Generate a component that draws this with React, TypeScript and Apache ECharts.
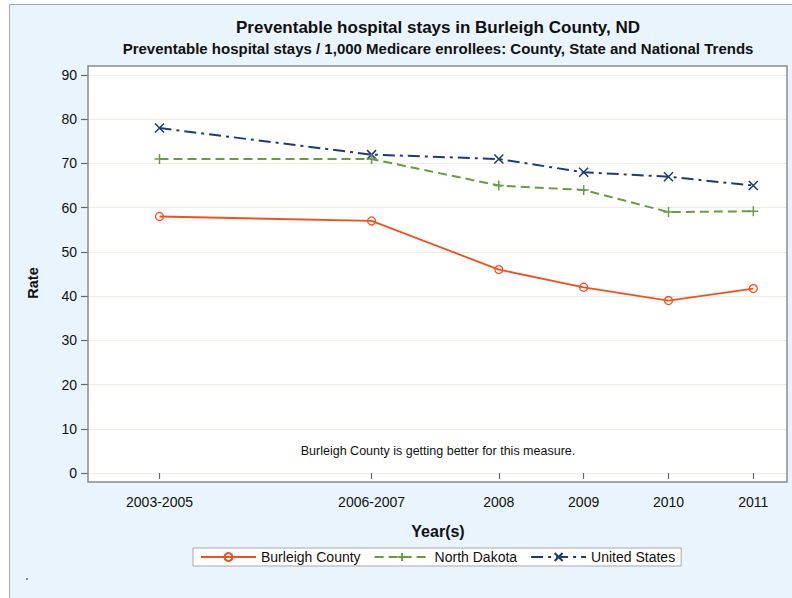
import React, { useEffect, useRef } from "react";
import * as echarts from "echarts";

const years = [2004, 2006.5, 2008, 2009, 2010, 2011];
const yearLabels = ["2003-2005", "2006-2007", "2008", "2009", "2010", "2011"];
const burleigh = [58, 57, 46, 42, 39, 41.7];
const northDakota = [71, 71, 65, 64, 59, 59.2];
const unitedStates = [78, 72, 71, 68, 67, 65];
const seriesNames = ["Burleigh County", "North Dakota", "United States"];
const titleText = "Preventable hospital stays in Burleigh County, ND";
const subtitleText =
  "Preventable hospital stays / 1,000 Medicare enrollees: County, State and National Trends";
const noteText = "Burleigh County is getting better for this measure.";

const FONT = "'Liberation Sans', Arial, Helvetica, sans-serif";
const C_BUR = "#F4501E";
const C_ND = "#6B9A45";
const C_US = "#1C3C72";

const PLUS = "path://M5,0 L5,10 M0,5 L10,5";
const CROSS = "path://M0,0 L10,10 M10,0 L0,10";

function pairs(vals: number[]) {
  return years.map((x, i) => [x, vals[i]]);
}

export default function App() {
  const ref = useRef<HTMLDivElement>(null);
  useEffect(() => {
    if (!ref.current) return;
    const chart = echarts.init(ref.current, null, { renderer: "svg" });
    const left = 88, right = 787, top = 66, bottom = 482;
    chart.setOption({
      animation: false,
      backgroundColor: "#ffffff",
      textStyle: { fontFamily: FONT },
      graphic: [
        {
          type: "rect",
          z: -20,
          silent: true,
          shape: { x: 9.5, y: 4.5, width: 800, height: 600 },
          style: { fill: "#EAF4FC", stroke: "#A8A8A8", lineWidth: 1 },
        },
        {
          type: "rect",
          z: -10,
          silent: true,
          shape: { x: left, y: top, width: right - left, height: bottom - top },
          style: { fill: "#ffffff", stroke: "none" },
        },
        {
          type: "rect",
          z: 50,
          silent: true,
          shape: { x: left, y: top, width: right - left, height: bottom - top },
          style: { fill: "none", stroke: "#8C8C8C", lineWidth: 1.5 },
        },
        {
          type: "rect",
          silent: true,
          shape: { x: 26, y: 578, width: 2, height: 2 },
          style: { fill: "#888" },
        },
        {
          type: "text",
          x: 438,
          y: 27,
          style: {
            text: titleText,
            font: `bold 17px ${FONT}`,
            fill: "#111",
            textAlign: "center",
            textVerticalAlign: "middle",
          },
        },
        {
          type: "text",
          x: 438,
          y: 48,
          style: {
            text: subtitleText,
            font: `bold 15px ${FONT}`,
            fill: "#111",
            textAlign: "center",
            textVerticalAlign: "middle",
          },
        },
        {
          type: "text",
          x: 438,
          y: 451,
          style: {
            text: noteText,
            font: `12.5px ${FONT}`,
            fill: "#111",
            textAlign: "center",
            textVerticalAlign: "middle",
          },
        },
        {
          type: "text",
          x: 438,
          y: 531,
          style: {
            text: "Year(s)",
            font: `bold 16px ${FONT}`,
            fill: "#111",
            textAlign: "center",
            textVerticalAlign: "middle",
          },
        },
        {
          type: "text",
          x: 33,
          y: 283,
          rotation: Math.PI / 2,
          style: {
            text: "Rate",
            font: `bold 14.5px ${FONT}`,
            fill: "#111",
            textAlign: "center",
            textVerticalAlign: "middle",
          },
        },
      ],
      legend: {
        left: 193,
        top: 548,
        orient: "horizontal",
        backgroundColor: "#ffffff",
        borderColor: "#A8A8A8",
        borderWidth: 1,
        borderRadius: 0,
        padding: [2, 6, 2, 7],
        itemWidth: 55,
        itemHeight: 10,
        itemGap: 13,
        textStyle: { fontSize: 14, color: "#111", fontFamily: FONT },
        data: seriesNames,
      },
      grid: { left, right: 792 - right, top: 75, bottom: 598 - 473, containLabel: false },
      xAxis: {
        type: "value",
        min: 2003.157,
        max: 2011.397,
        offset: 9,
        axisLine: { show: false },
        splitLine: { show: false },
        axisTick: {
          show: true,
          customValues: years,
          length: 6,
          lineStyle: { color: "#666", width: 1.2 },
        },
        axisLabel: {
          customValues: years,
          formatter: (v: number) => {
            const i = years.indexOf(v);
            return i >= 0 ? yearLabels[i] : "";
          },
          margin: 13,
          fontSize: 14,
          color: "#111",
          fontFamily: FONT,
        },
      },
      yAxis: {
        type: "value",
        min: 0,
        max: 90,
        interval: 10,
        axisLine: { show: false },
        axisTick: { show: true, length: 7, lineStyle: { color: "#666", width: 1.2 } },
        axisLabel: { margin: 11, fontSize: 14, color: "#111", fontFamily: FONT },
        splitLine: { show: true, lineStyle: { color: "#EFEDDF", width: 1 } },
      },
      series: [
        {
          name: seriesNames[0],
          type: "line",
          data: pairs(burleigh),
          symbol: "circle",
          symbolSize: 8,
          lineStyle: { color: C_BUR, width: 1.8, type: "solid" },
          itemStyle: { color: "rgba(255,255,255,0)", borderColor: C_BUR, borderWidth: 1.3 },
          z: 5,
        },
        {
          name: seriesNames[1],
          type: "line",
          data: pairs(northDakota),
          symbol: PLUS,
          symbolSize: 10,
          lineStyle: { color: C_ND, width: 2, type: [9, 5] },
          itemStyle: { color: "rgba(255,255,255,0)", borderColor: C_ND, borderWidth: 1.5 },
          z: 4,
        },
        {
          name: seriesNames[2],
          type: "line",
          data: pairs(unitedStates),
          symbol: CROSS,
          symbolSize: 9,
          lineStyle: { color: C_US, width: 2, type: [12, 5, 3, 5] },
          itemStyle: { color: "rgba(255,255,255,0)", borderColor: C_US, borderWidth: 1.5 },
          z: 3,
        },
      ],
    });
    return () => chart.dispose();
  }, []);
  return (
    <div
      ref={ref}
      style={{ position: "absolute", left: 0, top: 0, width: 792, height: 598 }}
    />
  );
}
